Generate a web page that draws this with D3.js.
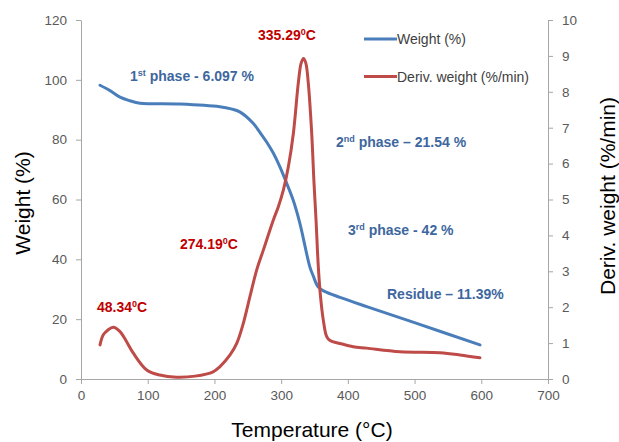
<!DOCTYPE html>
<html>
<head>
<meta charset="utf-8">
<script src="https://cdn.jsdelivr.net/npm/d3@7"></script>
<style>
  body { margin: 0; background: #ffffff; }
  text { font-family: "Liberation Sans", Arial, sans-serif; }
  .axis path, .axis line { stroke: #a6a6a6; }
  .axis text { fill: #595959; font-size: 13.5px; }
</style>
</head>
<body>
<div id="chart"></div>
<script>
// ======================================================
// TGA / DTG curves - weight (%) and derivative weight
// ======================================================

// temperatures (°C) for the weight curve
var weightTemps = [28.5, 43.5, 58.5, 73.5, 88.4, 148, 208, 225, 238, 258, 268, 278, 288, 298,
  308, 318, 328, 343, 348, 355.7, 365, 388.2, 428.3, 503.2, 598];
// weight (%)
var weightValues = [98.2, 96.4, 94.2, 93.0, 92.2, 91.9, 91.0, 90.3, 89.3, 85.5, 82.5, 79.3, 75.6, 71.0,
  65.6, 59.8, 52.1, 37.5, 34.5, 30.7, 29.3, 27.3, 24.2, 18.6, 11.4];

// temperatures (°C) for the derivative curve
var derivTemps = [28.5, 33.4, 40, 48.4, 58.5, 68, 78.4, 98.5, 118, 143.5, 171, 198, 208,
  223.4, 233.4, 243.3, 253.3, 263.4, 273.3, 288.3, 295.8, 303.3, 310.8, 318.3, 325.7,
  330, 333.5, 337, 340.7, 345.8, 349.3, 352.3, 355.7, 359, 363.2, 368.3, 373.3, 388.2,
  408, 428.3, 478.2, 538, 568, 598];
// deriv. weight (%/min)
var derivValues = [0.95, 1.23, 1.36, 1.44, 1.32, 1.05, 0.72, 0.25, 0.11, 0.05, 0.08, 0.20, 0.34,
  0.67, 0.99, 1.55, 2.30, 3.04, 3.59, 4.43, 4.80, 5.26, 5.91, 6.84, 8.24,
  8.8, 8.93, 8.8, 8.24, 6.84, 5.45, 4.43, 3.13, 2.3, 1.64, 1.18, 1.07, 0.99,
  0.90, 0.86, 0.76, 0.73, 0.67, 0.59];

// tick values
var xTicks = [0, 100, 200, 300, 400, 500, 600, 700];
var weightTicks = [0, 20, 40, 60, 80, 100, 120];
var derivTicks = [0, 1, 2, 3, 4, 5, 6, 7, 8, 9, 10];

var seriesNames = ["Weight (%)", "Deriv. weight (%/min)"];

// ------------------------------------------------------
var svgWidth = 619;
var svgHeight = 442;

var margin = { top: 20, right: 71, bottom: 63, left: 81 };
var chartWidth = svgWidth - margin.left - margin.right;
var chartHeight = svgHeight - margin.top - margin.bottom;

var blue = "#4a7ebb";
var red = "#be4b48";
var blueText = "#3d679e";
var redText = "#c00000";

var svg = d3.select("#chart")
  .append("svg")
  .attr("width", svgWidth)
  .attr("height", svgHeight);

var chartGroup = svg.append("g")
  .attr("transform", `translate(${margin.left}, ${margin.top})`);

// scales
var xScale = d3.scaleLinear().domain([0, 700]).range([0, chartWidth]);
var yWeight = d3.scaleLinear().domain([0, 120]).range([chartHeight, 0]);
var yDeriv = d3.scaleLinear().domain([0, 10]).range([chartHeight, 0]);

// axes
chartGroup.append("g")
  .attr("class", "axis")
  .attr("transform", `translate(0, ${chartHeight})`)
  .call(d3.axisBottom(xScale).tickValues(xTicks).tickSize(5).tickPadding(6).tickSizeOuter(0));

chartGroup.append("g")
  .attr("class", "axis")
  .call(d3.axisLeft(yWeight).tickValues(weightTicks).tickSize(5).tickPadding(9).tickSizeOuter(0));

chartGroup.append("g")
  .attr("class", "axis")
  .attr("transform", `translate(${chartWidth}, 0)`)
  .call(d3.axisRight(yDeriv).tickValues(derivTicks).tickSize(5).tickPadding(9).tickSizeOuter(0));

// lines (smoothed like the original)
var weightData = weightTemps.map((t, i) => ({ t: t, v: weightValues[i] }));
var derivData = derivTemps.map((t, i) => ({ t: t, v: derivValues[i] }));

var weightLine = d3.line()
  .x(d => xScale(d.t))
  .y(d => yWeight(d.v))
  .curve(d3.curveCatmullRom.alpha(0.5));

var derivLine = d3.line()
  .x(d => xScale(d.t))
  .y(d => yDeriv(d.v))
  .curve(d3.curveCatmullRom.alpha(0.5));

chartGroup.append("path")
  .datum(weightData)
  .attr("d", weightLine)
  .attr("fill", "none")
  .attr("stroke", blue)
  .attr("stroke-width", 3)
  .attr("stroke-linecap", "round");

chartGroup.append("path")
  .datum(derivData)
  .attr("d", derivLine)
  .attr("fill", "none")
  .attr("stroke", red)
  .attr("stroke-width", 3)
  .attr("stroke-linecap", "round");

// legend
var legend = svg.append("g");
[blue, red].forEach(function(c, i) {
  var ly = 39 + i * 37.5;
  legend.append("line")
    .attr("x1", 364).attr("x2", 397)
    .attr("y1", ly).attr("y2", ly)
    .attr("stroke", c)
    .attr("stroke-width", 3);
  legend.append("text")
    .attr("x", 397)
    .attr("y", ly + 5)
    .attr("font-size", "14px")
    .attr("fill", "#404040")
    .text(seriesNames[i]);
});

// annotations: [x, y, parts, colour] ; parts = [text, isSuperscript]
var notes = [
  [130, 81, [["1", 0], ["st", 1], [" phase - 6.097 %", 0]], blueText],
  [336, 147, [["2", 0], ["nd", 1], [" phase \u2013 21.54 %", 0]], blueText],
  [348, 235, [["3", 0], ["rd", 1], [" phase - 42 %", 0]], blueText],
  [387, 299, [["Residue \u2013 11.39%", 0]], blueText],
  [258, 40, [["335.29", 0], ["0", 1], ["C", 0]], redText],
  [180, 249, [["274.19", 0], ["0", 1], ["C", 0]], redText],
  [97, 312, [["48.34", 0], ["0", 1], ["C", 0]], redText]
];

notes.forEach(function(n) {
  var t = svg.append("text")
    .attr("x", n[0])
    .attr("y", n[1])
    .attr("font-size", "14px")
    .attr("font-weight", "bold")
    .attr("fill", n[3]);
  var up = false;
  n[2].forEach(function(p) {
    var span = t.append("tspan").text(p[0]);
    if (p[1]) {
      span.attr("font-size", "9px").attr("dy", -5);
      up = true;
    } else if (up) {
      span.attr("dy", 5);
      up = false;
    }
  });
});

// axis titles
svg.append("text")
  .attr("transform", "translate(30, 203) rotate(-90)")
  .attr("text-anchor", "middle")
  .attr("font-size", "21px")
  .attr("fill", "#000000")
  .text("Weight (%)");

svg.append("text")
  .attr("transform", "translate(615, 196) rotate(-90)")
  .attr("text-anchor", "middle")
  .attr("font-size", "21px")
  .attr("fill", "#000000")
  .text("Deriv. weight (%/min)");

svg.append("text")
  .attr("x", 312)
  .attr("y", 437)
  .attr("text-anchor", "middle")
  .attr("font-size", "21px")
  .attr("fill", "#000000")
  .text("Temperature (\u00b0C)");
</script>
</body>
</html>
